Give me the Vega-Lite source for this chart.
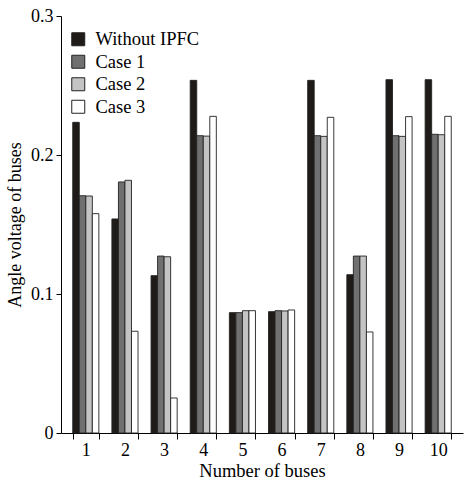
{
  "$schema": "https://vega.github.io/schema/vega-lite/v6.json",
  "autosize": "none",
  "padding": {"left": 61, "top": 16, "right": 3, "bottom": 48},
  "width": 402,
  "height": 417,
  "data": {
    "values": [
      {"bus": 1, "series": "Without IPFC", "value": 0.2235},
      {"bus": 1, "series": "Case 1", "value": 0.1707},
      {"bus": 1, "series": "Case 2", "value": 0.1705},
      {"bus": 1, "series": "Case 3", "value": 0.1578},
      {"bus": 2, "series": "Without IPFC", "value": 0.154},
      {"bus": 2, "series": "Case 1", "value": 0.1806},
      {"bus": 2, "series": "Case 2", "value": 0.1818},
      {"bus": 2, "series": "Case 3", "value": 0.0732},
      {"bus": 3, "series": "Without IPFC", "value": 0.1132},
      {"bus": 3, "series": "Case 1", "value": 0.1273},
      {"bus": 3, "series": "Case 2", "value": 0.1268},
      {"bus": 3, "series": "Case 3", "value": 0.0252},
      {"bus": 4, "series": "Without IPFC", "value": 0.2537},
      {"bus": 4, "series": "Case 1", "value": 0.2139},
      {"bus": 4, "series": "Case 2", "value": 0.2136},
      {"bus": 4, "series": "Case 3", "value": 0.2278},
      {"bus": 5, "series": "Without IPFC", "value": 0.0866},
      {"bus": 5, "series": "Case 1", "value": 0.0866},
      {"bus": 5, "series": "Case 2", "value": 0.088},
      {"bus": 5, "series": "Case 3", "value": 0.088},
      {"bus": 6, "series": "Without IPFC", "value": 0.0873},
      {"bus": 6, "series": "Case 1", "value": 0.088},
      {"bus": 6, "series": "Case 2", "value": 0.0878},
      {"bus": 6, "series": "Case 3", "value": 0.0885},
      {"bus": 7, "series": "Without IPFC", "value": 0.2537},
      {"bus": 7, "series": "Case 1", "value": 0.2139},
      {"bus": 7, "series": "Case 2", "value": 0.2134},
      {"bus": 7, "series": "Case 3", "value": 0.2271},
      {"bus": 8, "series": "Without IPFC", "value": 0.1139},
      {"bus": 8, "series": "Case 1", "value": 0.1273},
      {"bus": 8, "series": "Case 2", "value": 0.1273},
      {"bus": 8, "series": "Case 3", "value": 0.0727},
      {"bus": 9, "series": "Without IPFC", "value": 0.2542},
      {"bus": 9, "series": "Case 1", "value": 0.2139},
      {"bus": 9, "series": "Case 2", "value": 0.2134},
      {"bus": 9, "series": "Case 3", "value": 0.2276},
      {"bus": 10, "series": "Without IPFC", "value": 0.2542},
      {"bus": 10, "series": "Case 1", "value": 0.2149},
      {"bus": 10, "series": "Case 2", "value": 0.2146},
      {"bus": 10, "series": "Case 3", "value": 0.2278}
    ]
  },
  "mark": {"type": "bar", "stroke": "#222222", "strokeWidth": 0.9},
  "encoding": {
    "x": {
      "field": "bus",
      "type": "ordinal",
      "sort": "ascending",
      "scale": {"paddingInner": 0.333, "paddingOuter": 0.3},
      "axis": {
        "title": "Number of buses",
        "labelAngle": 0,
        "tickBand": "extent",
        "domainColor": "#000000",
        "tickColor": "#000000",
        "tickSize": 6,
        "labelFont": "Liberation Serif",
        "labelFontSize": 18,
        "labelColor": "#000000",
        "labelPadding": 2,
        "titleFont": "Liberation Serif",
        "titleFontSize": 18.5,
        "titleFontWeight": "normal",
        "titleColor": "#000000",
        "titlePadding": 2
      }
    },
    "xOffset": {
      "field": "series",
      "type": "nominal",
      "sort": ["Without IPFC", "Case 1", "Case 2", "Case 3"],
      "scale": {"paddingInner": 0, "paddingOuter": 0}
    },
    "y": {
      "field": "value",
      "type": "quantitative",
      "scale": {"domain": [0, 0.3], "nice": false},
      "axis": {
        "title": "Angle voltage of buses",
        "values": [0, 0.1, 0.2, 0.3],
        "format": "~g",
        "grid": false,
        "domainColor": "#000000",
        "tickColor": "#000000",
        "tickSize": 5,
        "labelFont": "Liberation Serif",
        "labelFontSize": 18,
        "labelColor": "#000000",
        "labelPadding": 3,
        "titleFont": "Liberation Serif",
        "titleFontSize": 18,
        "titleFontWeight": "normal",
        "titleColor": "#000000",
        "titlePadding": 6
      }
    },
    "fill": {
      "field": "series",
      "type": "nominal",
      "sort": ["Without IPFC", "Case 1", "Case 2", "Case 3"],
      "scale": {
        "domain": ["Without IPFC", "Case 1", "Case 2", "Case 3"],
        "range": ["#1e1b18", "#707070", "#c4c4c4", "#ffffff"]
      },
      "legend": {
        "title": null,
        "orient": "none",
        "legendX": 8,
        "legendY": 14,
        "symbolType": "square",
        "symbolSize": 169,
        "symbolStrokeColor": "#222222",
        "symbolStrokeWidth": 1,
        "labelFont": "Liberation Serif",
        "labelFontSize": 18.5,
        "labelColor": "#000000",
        "labelOffset": 8,
        "rowPadding": 3.5
      }
    }
  },
  "config": {"view": {"stroke": null}}
}
